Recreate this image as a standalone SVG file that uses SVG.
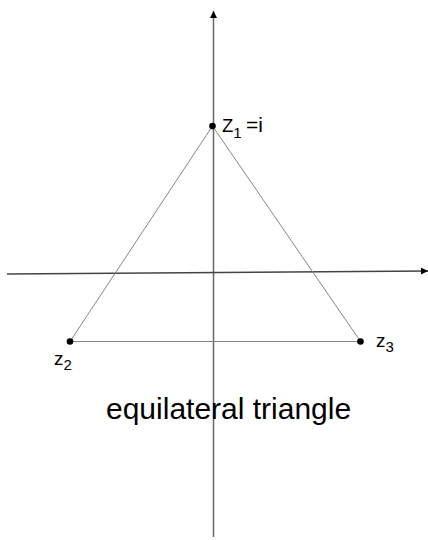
<svg xmlns="http://www.w3.org/2000/svg" width="428" height="540" viewBox="0 0 428 540">
<style>
text{font-family:"Liberation Sans",Arial,sans-serif;fill:#000}
.axis{stroke:#444;stroke-width:1.5;fill:none}
.edge{stroke:#888;stroke-width:1;fill:none}
.pt{fill:#000}
.sub{font-size:15px}
</style>
<defs>
<marker id="arr" viewBox="0 0 10 10" refX="10" refY="5" markerWidth="7" markerHeight="7" markerUnits="userSpaceOnUse" orient="auto">
<path d="M0,0 L10,5 L0,10 z" fill="#000"/>
</marker>
</defs>
<rect width="428" height="540" fill="#fff"/>
<g id="connectors">
<line class="axis" x1="213.5" y1="537" x2="213.5" y2="11" marker-end="url(#arr)" style="stroke:#666"/>
<line class="axis" x1="7" y1="274" x2="428" y2="271" marker-end="url(#arr)"/>
<line class="edge" x1="212.5" y1="126" x2="70" y2="341.5"/>
<line class="edge" x1="212.5" y1="126" x2="360.5" y2="341.5"/>
<line class="edge" x1="70" y1="341.5" x2="360.5" y2="341.5"/>
</g>
<g id="z1">
<circle class="pt" cx="212.5" cy="126" r="3.3"/>
<text x="222" y="132" font-size="18.5">Z<tspan class="sub" dy="6">1</tspan><tspan x="246" dy="-6" font-size="21">=i</tspan></text>
</g>
<g id="z2">
<circle class="pt" cx="70" cy="341.5" r="3.3"/>
<text x="54" y="365" font-size="19">z<tspan class="sub" dy="5">2</tspan></text>
</g>
<g id="z3">
<circle class="pt" cx="360.5" cy="341.5" r="3.3"/>
<text x="376" y="347" font-size="19">z<tspan class="sub" dy="5">3</tspan></text>
</g>
<g id="caption">
<text x="106" y="419" font-size="30">equilateral triangle</text>
</g>
</svg>
